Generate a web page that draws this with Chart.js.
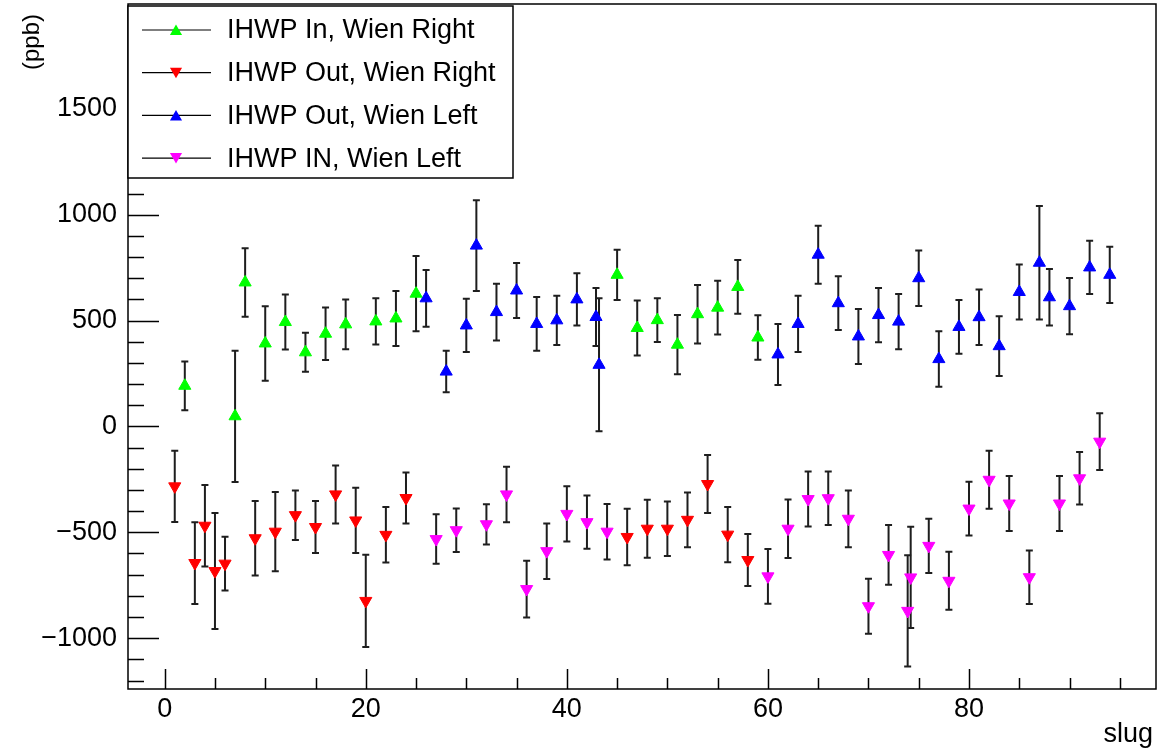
<!DOCTYPE html>
<html>
<head>
<meta charset="utf-8">
<script src="https://cdn.jsdelivr.net/npm/chart.js@4.4.1/dist/chart.umd.min.js"></script>
<style>
  html, body { margin: 0; padding: 0; background: #fff; }
</style>
</head>
<body>
<canvas id="asym" width="1157" height="751"></canvas>
<script>
// IHWP In, Wien Right
const slugInRight = [2, 7, 8, 10, 12, 14, 16, 18, 21, 23, 25, 45, 47, 49, 51, 53, 55, 57, 59];
const asymInRight = [192, 48, 680, 392, 493, 350, 438, 482, 496, 510, 627, 716, 465, 502, 386, 530, 561, 659, 420];
const errInRight = [115, 310, 162, 176, 130, 92, 124, 117, 109, 130, 178, 119, 130, 103, 140, 138, 127, 127, 105];

// IHWP Out, Wien Right
const slugOutRight = [1, 3, 4, 5, 6, 9, 11, 13, 15, 17, 19, 20, 22, 24, 46, 48, 50, 52, 54, 56, 58];
const asymOutRight = [-283, -645, -469, -683, -648, -528, -497, -419, -475, -321, -444, -824, -512, -338, -522, -483, -483, -441, -272, -511, -631];
const errOutRight = [168, 193, 192, 274, 127, 176, 187, 117, 123, 137, 154, 218, 131, 120, 133, 137, 129, 129, 137, 130, 123];

// IHWP Out, Wien Left
const slugOutLeft = [26, 28, 30, 31, 33, 35, 37, 39, 41, 42.9, 43.2, 61, 63, 65, 67, 69, 71, 73, 75, 77, 79, 81, 83, 85, 87, 88, 90, 92, 94];
const asymOutLeft = [605, 259, 477, 854, 540, 642, 484, 501, 600, 517, 291, 340, 484, 811, 582, 425, 526, 495, 700, 318, 470, 516, 379, 635, 773, 610, 568, 751, 716];
const errOutLeft = [134, 98, 126, 214, 134, 130, 127, 116, 123, 137, 314, 144, 133, 137, 127, 130, 128, 131, 131, 131, 127, 131, 141, 130, 268, 133, 133, 126, 133];

// IHWP IN, Wien Left
const slugInLeft = [27, 29, 32, 34, 36, 38, 40, 42, 44, 60, 62, 64, 66, 68, 70, 72, 73.9, 74.2, 76, 78, 80, 82, 84, 86, 89, 91, 93];
const asymInLeft = [-532, -490, -462, -321, -768, -589, -413, -452, -497, -708, -483, -343, -339, -436, -849, -607, -871, -713, -564, -729, -388, -252, -364, -712, -364, -245, -72];
const errInLeft = [117, 103, 95, 131, 134, 131, 130, 126, 131, 129, 138, 130, 126, 134, 130, 141, 263, 239, 128, 137, 127, 137, 130, 126, 130, 124, 134];

// labelled axis ticks
const slugTicks = [0, 20, 40, 60, 80];
const ppbTicks = [-1000, -500, 0, 500, 1000, 1500];

const FONT = 'Liberation Sans, Arial, Helvetica, sans-serif';

function series(label, xs, ys, errs, color, down) {
    return {
        label: label,
        data: xs.map((x, i) => ({ x: x, y: ys[i] })),
        errors: errs,
        showLine: false,
        pointStyle: 'triangle',
        pointRadius: 7,
        pointHoverRadius: 7,
        pointRotation: down ? 180 : 0,
        pointBackgroundColor: color,
        pointBorderColor: color,
        pointBorderWidth: 1,
        down: down
    };
}

function triangle(ctx, x, y, r, down) {
    const s = down ? -1 : 1;
    ctx.beginPath();
    ctx.moveTo(x, y - s * r);
    ctx.lineTo(x + r * 0.866, y + s * r / 2);
    ctx.lineTo(x - r * 0.866, y + s * r / 2);
    ctx.closePath();
    ctx.fill();
}

// vertical error bars with small end caps, drawn under the markers
const errorBars = {
    id: 'errorBars',
    beforeDatasetsDraw(chart) {
        const ctx = chart.ctx;
        const yScale = chart.scales.y;
        ctx.save();
        ctx.strokeStyle = '#1e1e1e';
        ctx.lineWidth = 2;
        chart.data.datasets.forEach((ds, i) => {
            chart.getDatasetMeta(i).data.forEach((pt, j) => {
                const v = ds.data[j].y;
                const top = yScale.getPixelForValue(v + ds.errors[j]);
                const bot = yScale.getPixelForValue(v - ds.errors[j]);
                ctx.beginPath();
                ctx.moveTo(pt.x, top); ctx.lineTo(pt.x, bot);
                ctx.moveTo(pt.x - 3.5, top); ctx.lineTo(pt.x + 3.5, top);
                ctx.moveTo(pt.x - 3.5, bot); ctx.lineTo(pt.x + 3.5, bot);
                ctx.stroke();
            });
        });
        ctx.restore();
    }
};

// frame with inward major/minor ticks
const frame = {
    id: 'frame',
    afterDatasetsDraw(chart) {
        const { ctx, chartArea: a, scales } = chart;
        ctx.save();
        ctx.strokeStyle = '#000';
        ctx.lineWidth = 1.5;
        ctx.strokeRect(a.left, a.top, a.right - a.left, a.bottom - a.top);
        ctx.beginPath();
        const ys = scales.y;
        for (let v = Math.ceil(ys.min / 100) * 100; v <= ys.max; v += 100) {
            const p = Math.round(ys.getPixelForValue(v)) + 0.5;
            const len = v % 500 === 0 ? 31 : 16;
            ctx.moveTo(a.left, p); ctx.lineTo(a.left + len, p);
        }
        const xs = scales.x;
        for (let v = Math.ceil(xs.min / 5) * 5; v <= xs.max; v += 5) {
            const p = Math.round(xs.getPixelForValue(v)) + 0.5;
            const len = v % 20 === 0 ? 20 : 11;
            ctx.moveTo(p, a.bottom); ctx.lineTo(p, a.bottom - len);
        }
        ctx.stroke();
        ctx.restore();
    }
};

// boxed legend in the top-left corner, axis titles
const decorations = {
    id: 'decorations',
    afterDraw(chart) {
        const { ctx, chartArea: a } = chart;
        ctx.save();
        const bx = a.left, by = 6, bw = 385, bh = 172;
        ctx.fillStyle = '#fff';
        ctx.fillRect(bx, by, bw, bh);
        ctx.strokeStyle = '#000';
        ctx.lineWidth = 1.5;
        ctx.strokeRect(bx, by, bw, bh);

        ctx.font = '27px ' + FONT;
        ctx.textAlign = 'left';
        ctx.textBaseline = 'middle';
        chart.data.datasets.forEach((ds, i) => {
            const cy = 30 + i * 42.7;
            ctx.strokeStyle = '#000';
            ctx.lineWidth = 1.2;
            ctx.beginPath();
            ctx.moveTo(bx + 14, cy); ctx.lineTo(bx + 83, cy);
            ctx.stroke();
            ctx.fillStyle = ds.pointBackgroundColor;
            triangle(ctx, bx + 48, cy + (ds.down ? -1.5 : 1.5), 7, ds.down);
            ctx.fillStyle = '#000';
            ctx.fillText(ds.label, bx + 99, cy + 1);
        });

        ctx.font = '24px ' + FONT;
        ctx.translate(32, 42);
        ctx.rotate(-Math.PI / 2);
        ctx.textAlign = 'center';
        ctx.fillText('(ppb)', 0, 0);
        ctx.setTransform(1, 0, 0, 1, 0, 0);

        ctx.font = '27px ' + FONT;
        ctx.textAlign = 'right';
        ctx.textBaseline = 'alphabetic';
        ctx.fillText('slug', 1153, 742);
        ctx.restore();
    }
};

new Chart(document.getElementById('asym'), {
    type: 'scatter',
    data: {
        datasets: [
            series('IHWP In, Wien Right', slugInRight, asymInRight, errInRight, '#00ff00', false),
            series('IHWP Out, Wien Right', slugOutRight, asymOutRight, errOutRight, '#ff0000', true),
            series('IHWP Out, Wien Left', slugOutLeft, asymOutLeft, errOutLeft, '#0000ff', false),
            series('IHWP IN, Wien Left', slugInLeft, asymInLeft, errInLeft, '#ff00ff', true)
        ]
    },
    options: {
        responsive: false,
        animation: false,
        devicePixelRatio: 1,
        layout: { autoPadding: false, padding: { top: 4, right: 1, left: 0, bottom: 0 } },
        scales: {
            x: {
                type: 'linear',
                min: -3.65,
                max: 98.6,
                afterBuildTicks: s => { s.ticks = slugTicks.map(v => ({ value: v })); },
                afterFit: s => {
                    s.height = 62;
                    s.paddingLeft = 0;
                    s.paddingRight = 0;
                },
                grid: { display: false, drawTicks: false },
                border: { display: false },
                ticks: {
                    maxRotation: 0,
                    autoSkip: false,
                    padding: 4,
                    color: '#000',
                    font: { family: FONT, size: 27 }
                }
            },
            y: {
                min: -1240,
                max: 1995,
                afterBuildTicks: s => { s.ticks = ppbTicks.map(v => ({ value: v })); },
                afterFit: s => {
                    s.width = 128;
                    s.paddingTop = 0;
                    s.paddingBottom = 0;
                },
                grid: { display: false, drawTicks: false },
                border: { display: false },
                ticks: {
                    autoSkip: false,
                    padding: 11,
                    color: '#000',
                    font: { family: FONT, size: 27 },
                    callback: v => String(v).replace('-', '\u2212')
                }
            }
        },
        plugins: {
            legend: { display: false },
            tooltip: { enabled: false }
        }
    },
    plugins: [errorBars, frame, decorations]
});
</script>
</body>
</html>
